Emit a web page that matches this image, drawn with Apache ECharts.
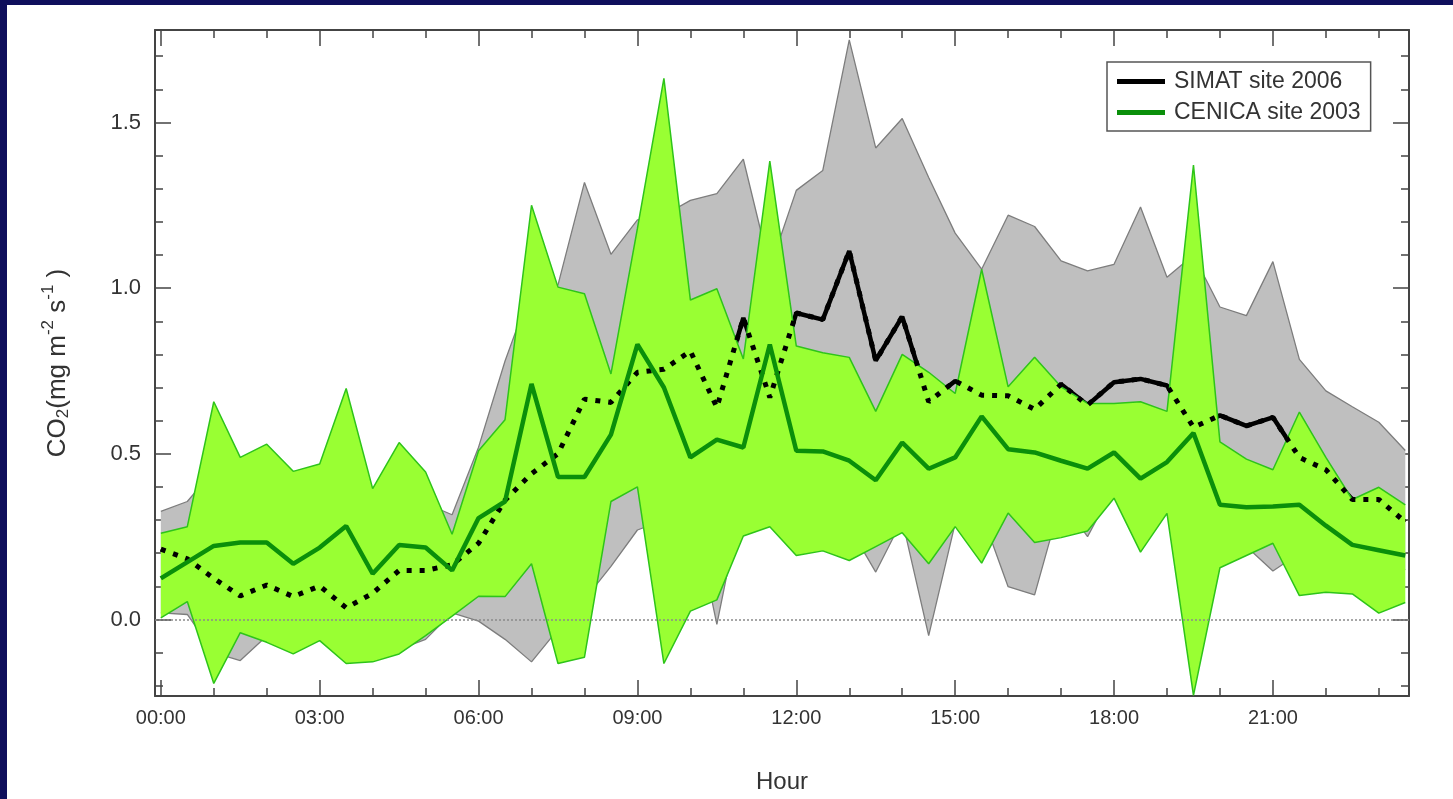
<!DOCTYPE html>
<html>
<head>
<meta charset="utf-8">
<script src="https://cdn.jsdelivr.net/npm/echarts@6/dist/echarts.min.js"></script>
<style>
html,body{margin:0;padding:0;width:1453px;height:799px;overflow:hidden;background:#0f0f5c;}
#chart{position:absolute;left:7px;top:5px;width:1446px;height:794px;background:#ffffff;}
</style>
</head>
<body>
<div id="chart"></div>
<script>
// ---- data (hours of day, half-hour steps) ----
const hours = [0,0.5,1,1.5,2,2.5,3,3.5,4,4.5,5,5.5,6,6.5,7,7.5,8,8.5,9,9.5,10,10.5,11,11.5,
               12,12.5,13,13.5,14,14.5,15,15.5,16,16.5,17,17.5,18,18.5,19,19.5,20,20.5,21,21.5,22,22.5,23,23.5];

// SIMAT site 2006: mean and band (upper / lower)
const simatMean  = [0.212,0.183,0.124,0.071,0.104,0.069,0.101,0.035,0.079,0.148,0.148,0.165,0.23,0.36,0.44,0.50,
                    0.665,0.655,0.746,0.755,0.81,0.64,0.91,0.67,0.925,0.905,1.112,0.781,0.914,0.657,0.72,0.677,
                    0.675,0.634,0.71,0.647,0.716,0.726,0.706,0.58,0.616,0.584,0.61,0.489,0.452,0.362,0.362,0.294];
const simatUpper = [0.326,0.356,0.45,0.4,0.42,0.38,0.4,0.45,0.33,0.4,0.35,0.316,0.52,0.78,1.0,1.01,
                    1.319,1.102,1.206,1.22,1.265,1.285,1.389,1.06,1.295,1.355,1.749,1.423,1.512,1.334,1.166,1.057,
                    1.22,1.186,1.082,1.052,1.072,1.245,1.033,1.1,0.943,0.917,1.08,0.785,0.69,0.642,0.595,0.51];
const simatLower = [0.02,0.015,-0.1,-0.124,-0.05,-0.09,-0.05,-0.1,-0.11,-0.09,-0.06,0.02,-0.005,-0.06,-0.128,-0.03,
                    0.06,0.16,0.27,0.3,0.37,-0.015,0.38,0.33,0.3,0.3,0.28,0.143,0.3,-0.049,0.29,0.32,
                    0.099,0.074,0.36,0.25,0.4,0.38,0.38,0.35,0.3,0.22,0.146,0.2,0.22,0.2,0.18,0.15];

// CENICA site 2003: mean and band (upper / lower)
const cenicaMean  = [0.124,0.173,0.222,0.232,0.232,0.168,0.217,0.282,0.138,0.225,0.217,0.148,0.306,0.356,0.711,0.43,
                     0.43,0.558,0.83,0.70,0.489,0.543,0.519,0.83,0.509,0.507,0.479,0.42,0.534,0.455,0.489,0.613,
                     0.514,0.504,0.479,0.455,0.504,0.425,0.475,0.563,0.346,0.339,0.341,0.346,0.283,0.225,0.209,0.193];
const cenicaUpper = [0.26,0.28,0.657,0.489,0.529,0.447,0.469,0.697,0.395,0.534,0.445,0.257,0.509,0.603,1.25,1.003,
                     0.983,0.741,1.18,1.633,0.964,0.998,0.786,1.383,0.825,0.805,0.791,0.628,0.8,0.746,0.682,1.057,
                     0.702,0.791,0.702,0.652,0.652,0.657,0.628,1.371,0.536,0.484,0.452,0.626,0.489,0.362,0.399,0.346];
const cenicaLower = [0.005,0.054,-0.193,-0.04,-0.069,-0.104,-0.064,-0.133,-0.128,-0.104,-0.049,0.01,0.07,0.069,0.168,-0.133,
                     -0.114,0.356,0.40,-0.133,0.025,0.059,0.252,0.28,0.193,0.207,0.178,0.22,0.262,0.168,0.28,0.17,
                     0.321,0.232,0.247,0.267,0.366,0.203,0.32,-0.229,0.156,0.193,0.23,0.072,0.082,0.077,0.019,0.051];

// ---- ticks / labels ----
const xMajorTicks = [0,3,6,9,12,15,18,21];
const xTickLabels = ['00:00','03:00','06:00','09:00','12:00','15:00','18:00','21:00'];
const xMinorTicks = [1,2,4,5,7,8,10,11,13,14,16,17,19,20,22,23];
const yMajorTicks = [0,0.5,1.0,1.5];
const yTickLabels = ['0.0','0.5','1.0','1.5'];
const yMinorTicks = [-0.2,-0.1,0.1,0.2,0.3,0.4,0.6,0.7,0.8,0.9,1.1,1.2,1.3,1.4,1.6,1.7];
const seriesNames = ['SIMAT site 2006','CENICA site 2003'];

const X_MIN = -0.11, X_MAX = 23.57, Y_MIN = -0.231, Y_MAX = 1.779;
const FONT = "'Liberation Sans', Arial, sans-serif";
const AX = '#444';

const pairs = arr => hours.map((h,i)=>[h, arr[i]]);
const triples = (lo, up) => hours.map((h,i)=>[h, lo[i], up[i]]);

function xAxisDef(pos, ticks, len, showLine, showLabel){
  return {
    type:'value', position:pos, min:X_MIN, max:X_MAX,
    axisLine:{show:showLine, onZero:false, lineStyle:{color:AX, width:2}},
    axisTick:{show:true, inside:true, length:len, customValues:ticks, lineStyle:{color:AX, width:1.5}},
    axisLabel:showLabel ? {show:true, customValues:xMajorTicks, margin:12, color:'#333', fontFamily:FONT, fontSize:20,
      formatter:v=>xTickLabels[xMajorTicks.indexOf(Math.round(v))] || ''} : {show:false},
    splitLine:{show:false}
  };
}
function yAxisDef(pos, ticks, len, showLine, showLabel){
  return {
    type:'value', position:pos, min:Y_MIN, max:Y_MAX,
    axisLine:{show:showLine, onZero:false, lineStyle:{color:AX, width:2}},
    axisTick:{show:true, inside:true, length:len, customValues:ticks, lineStyle:{color:AX, width:1.5}},
    axisLabel:showLabel ? {show:true, customValues:yMajorTicks, margin:14, color:'#333', fontFamily:FONT, fontSize:22,
      formatter:v=>{const k=yMajorTicks.findIndex(t=>Math.abs(t-v)<1e-6); return k>=0?yTickLabels[k]:'';}} : {show:false},
    splitLine:{show:false}
  };
}

const xAxes = [
  xAxisDef('bottom', xMajorTicks, 16, true, true),
  xAxisDef('bottom', xMinorTicks, 8, false, false),
  xAxisDef('top', xMajorTicks, 16, true, false),
  xAxisDef('top', xMinorTicks, 8, false, false)
];
xAxes[0].name = 'Hour';
xAxes[0].nameLocation = 'middle';
xAxes[0].nameGap = 74;
xAxes[0].nameTextStyle = {color:'#333', fontFamily:FONT, fontSize:24};

const yAxes = [
  yAxisDef('left', yMajorTicks, 16, true, true),
  yAxisDef('left', yMinorTicks, 8, false, false),
  yAxisDef('right', yMajorTicks, 16, true, false),
  yAxisDef('right', yMinorTicks, 8, false, false)
];
yAxes[0].name = '{a|CO}{sub|2}{a|(mg m}{sup|-2}{a| s}{sup|-1}{a| )}';
yAxes[0].nameLocation = 'middle';
yAxes[0].nameRotate = 90;
yAxes[0].nameGap = 80;
yAxes[0].nameTextStyle = {
  color:'#333', fontFamily:FONT, fontSize:26,
  rich:{
    a:{color:'#333', fontFamily:FONT, fontSize:26},
    sub:{color:'#333', fontFamily:FONT, fontSize:17, padding:[12,0,0,0]},
    sup:{color:'#333', fontFamily:FONT, fontSize:17, padding:[0,0,18,0]}
  }
};

// band drawn as a single polygon through the library's coordinate system
function bandRenderer(fill){
  return function(params, api){
    if (params.dataIndex !== 0) return null;
    const data = params.context.bandData;
    const top = [], bot = [];
    for (let i = 0; i < data.length; i++){
      top.push(api.coord([data[i][0], data[i][2]]));
      bot.push(api.coord([data[i][0], data[i][1]]));
    }
    const pts = top.concat(bot.reverse());
    return {type:'polygon', shape:{points:pts}, style:{fill:fill, stroke:null}, silent:true};
  };
}
function bandSeries(name, lo, up, fill, z){
  const d = triples(lo, up);
  return {
    type:'custom', name:name, xAxisIndex:0, yAxisIndex:0, z:z, silent:true, animation:false,
    clip:true, encode:{x:0, y:[1,2]}, data:d,
    renderItem:function(params, api){ params.context.bandData = d; return bandRenderer(fill)(params, api); }
  };
}

const base = {type:'line', xAxisIndex:0, yAxisIndex:0, symbol:'none', silent:true, animation:false, smooth:false};

const option = {
  animation:false,
  backgroundColor:'#ffffff',
  grid:{left:148, right:44, top:25, bottom:91, containLabel:false},
  legend:{
    data:seriesNames, orient:'vertical', left:1100, top:57,
    icon:'rect', itemWidth:48, itemHeight:5, itemGap:8,
    padding:[8,10,7,10], borderColor:'#555', borderWidth:1.5, backgroundColor:'#fff',
    textStyle:{color:'#333', fontFamily:FONT, fontSize:23, padding:[0,0,0,4]},
    selectedMode:false
  },
  xAxis:xAxes,
  yAxis:yAxes,
  series:[
    bandSeries('SIMAT band', simatLower, simatUpper, '#bfbfbf', 1),
    Object.assign({}, base, {name:'SIMAT lower', data:pairs(simatLower), z:1, lineStyle:{color:'#7d7d7d', width:1.3}}),
    Object.assign({}, base, {name:'SIMAT upper', data:pairs(simatUpper), z:1, lineStyle:{color:'#7d7d7d', width:1.3}}),
    Object.assign({}, base, {name:seriesNames[0], data:pairs(simatMean), z:2,
      lineStyle:{color:'#000', width:4.5}, itemStyle:{color:'#000'}}),
    bandSeries('CENICA band', cenicaLower, cenicaUpper, '#99ff33', 3),
    Object.assign({}, base, {name:'CENICA lower', data:pairs(cenicaLower), z:3, lineStyle:{color:'#2ec41a', width:1.5}}),
    Object.assign({}, base, {name:'CENICA upper', data:pairs(cenicaUpper), z:3, lineStyle:{color:'#2ec41a', width:1.5}}),
    Object.assign({}, base, {name:'SIMAT dotted', data:pairs(simatMean), z:4,
      lineStyle:{color:'#000', width:5, type:[5,8], cap:'butt'},
      markLine:{silent:true, symbol:'none', label:{show:false}, animation:false,
        lineStyle:{color:'#8a8a8a', width:1.5, type:[2,2]}, data:[{yAxis:0}]}}),
    Object.assign({}, base, {name:seriesNames[1], data:pairs(cenicaMean), z:5,
      lineStyle:{color:'#0a8f0a', width:4.5}, itemStyle:{color:'#0a8f0a'}})
  ]
};

const chart = echarts.init(document.getElementById('chart'), null, {renderer:'canvas'});
chart.setOption(option);
</script>
</body>
</html>
